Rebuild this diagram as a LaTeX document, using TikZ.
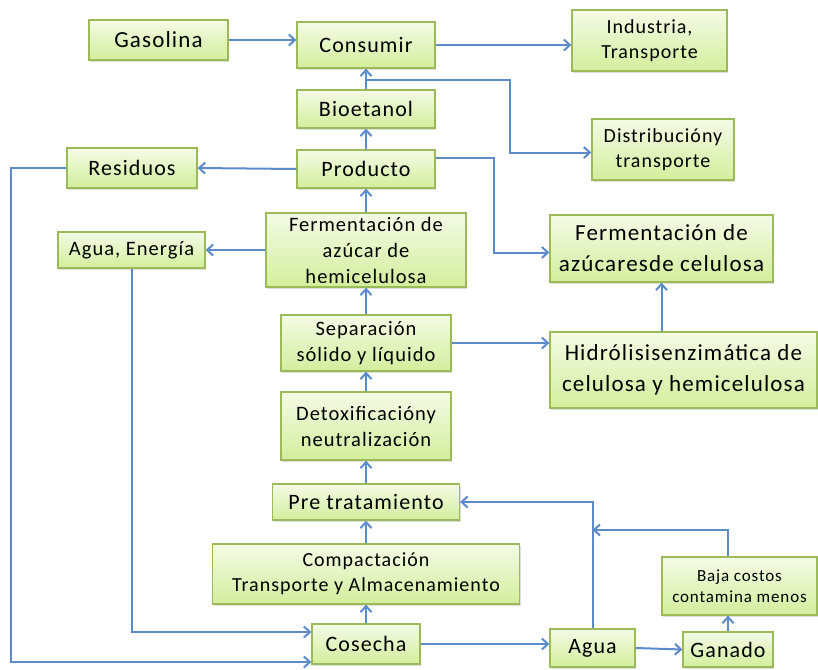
\documentclass[tikz,border=0pt]{standalone}
\usepackage{fontspec}
\setmainfont{Carlito}[LetterSpace=5]
\usetikzlibrary{arrows.meta, shadows}
\definecolor{boxline}{HTML}{9BBB59}
\definecolor{boxtop}{HTML}{F4FBE6}
\definecolor{boxbot}{HTML}{D3EE9C}
\definecolor{flowblue}{HTML}{5B8BCB}

\begin{document}
\begin{tikzpicture}[x=1pt, y=-1pt,
      stage/.style={draw=boxline, line width=1.3pt, top color=boxtop, bottom color=boxbot,
        align=center, inner sep=1pt, text=black,
        font=\fontsize{22}{26}\selectfont,
        drop shadow={shadow xshift=1.2pt, shadow yshift=-1.8pt, opacity=0.25}},
      wh/.style 2 args={minimum width=#1, minimum height=#2},
      flow/.style={draw=flowblue, line width=2pt, -{Straight Barb[length=6pt, width=11pt]}}]
    \useasboundingbox (0,0) rectangle (818,669);
    \node (gasolina) [stage, wh={139pt}{40pt}, font=\fontsize{23}{26}\selectfont] at (158.5,40) {Gasolina};
    \node (consumir) [stage, wh={138pt}{46pt}] at (366,45) {Consumir};
    \node (industria) [stage, wh={155pt}{61pt}, font=\fontsize{20}{25}\selectfont] at (649.5,40.5) {Industria,\\Transporte};
    \node (bioetanol) [stage, wh={138pt}{38pt}] at (366,109) {Bioetanol};
    \node (distrib) [stage, wh={142pt}{61pt}, font=\fontsize{20}{25}\selectfont] at (663,149.5) {Distribucióny\\transporte};
    \node (residuos) [stage, wh={130pt}{40pt}] at (132,168) {Residuos};
    \node (producto) [stage, wh={138pt}{38pt}] at (366,169) {Producto};
    \node (fermhemi) [stage, wh={200pt}{74pt}, font=\fontsize{20.5}{26}\selectfont] at (366,250) {Fermentación de\\azúcar de\\hemicelulosa};
    \node (aguaenergia) [stage, wh={147pt}{36pt}, font=\fontsize{20.5}{26}\selectfont] at (131.5,250) {Agua, Energía};
    \node (fermcel) [stage, wh={223pt}{67pt}, font=\fontsize{23}{31}\selectfont] at (661.5,248.5) {Fermentación de\\azúcaresde celulosa};
    \node (separacion) [stage, wh={170pt}{56pt}, font=\fontsize{20.5}{26}\selectfont] at (366,343) {Separación\\sólido y líquido};
    \node (hidrolisis) [stage, wh={267pt}{76pt}, font=\fontsize{23}{31}\selectfont] at (683.5,370) {Hidrólisisenzimática de\\celulosa y hemicelulosa};
    \node (detox) [stage, wh={170pt}{68pt}, font=\fontsize{20.5}{26}\selectfont] at (366,426) {Detoxificacióny\\neutralización};
    \node (pretrat) [stage, wh={187pt}{36pt}] at (366,502) {Pre tratamiento};
    \node (compact) [stage, wh={307pt}{60pt}, font=\fontsize{20}{25}\selectfont] at (366,574) {Compactación\\Transporte y Almacenamiento};
    \node (cosecha) [stage, wh={108pt}{40pt}] at (366,644) {Cosecha};
    \node (agua) [stage, wh={85pt}{38pt}] at (592.5,648) {Agua};
    \node (ganado) [stage, wh={90pt}{35pt}] at (728,649.5) {Ganado};
    \node (baja) [stage, wh={155pt}{58pt}, font=\fontsize{17}{21}\selectfont] at (739.5,586) {Baja costos\\contamina menos};
    \coordinate (split) at (366,80);
    \coordinate (join) at (592.5,530);
    \draw[flow] (gasolina.east) -- (gasolina.east -| consumir.west);
    \draw[flow] (consumir.east) -- (consumir.east -| industria.west);
    \draw[flow] (bioetanol.north) -- (consumir.south);
    \draw[flow] (split) -- ++(144,0) |- ([yshift=-3pt]distrib.west);
    \draw[flow] (producto.north) -- (bioetanol.south);
    \draw[flow] (producto.west) -- (residuos.east);
    \draw[flow] ([yshift=11pt]producto.east) -- ++(58,0) |- ([yshift=-4pt]fermcel.west);
    \draw[flow] (fermhemi.north) -- (producto.south);
    \draw[flow] (fermhemi.west) -- (aguaenergia.east);
    \draw[flow] (separacion.north) -- (fermhemi.south);
    \draw[flow] (separacion.east) -- (separacion.east -| hidrolisis.west);
    \draw[flow] (hidrolisis.north -| fermcel.south) -- (fermcel.south);
    \draw[flow] (detox.north) -- (separacion.south);
    \draw[flow] (pretrat.north) -- (detox.south);
    \draw[flow] (compact.north) -- (pretrat.south);
    \draw[flow] (cosecha.north) -- (compact.south);
    \draw[flow] (residuos.west) -- ++(-55,0) |- ([yshift=-18pt]cosecha.west);
    \draw[flow] (aguaenergia.south) |- ([yshift=12pt]cosecha.west);
    \draw[flow] (cosecha.east) -- (cosecha.east -| agua.west);
    \draw[flow] (agua.east) -- (ganado.west);
    \draw[flow] (ganado.north) -- (ganado.north |- baja.south);
    \draw[flow] (agua.north) |- (pretrat.east);
    \draw[flow] (ganado.north |- baja.north) |- (join);
  \end{tikzpicture}
\end{document}
